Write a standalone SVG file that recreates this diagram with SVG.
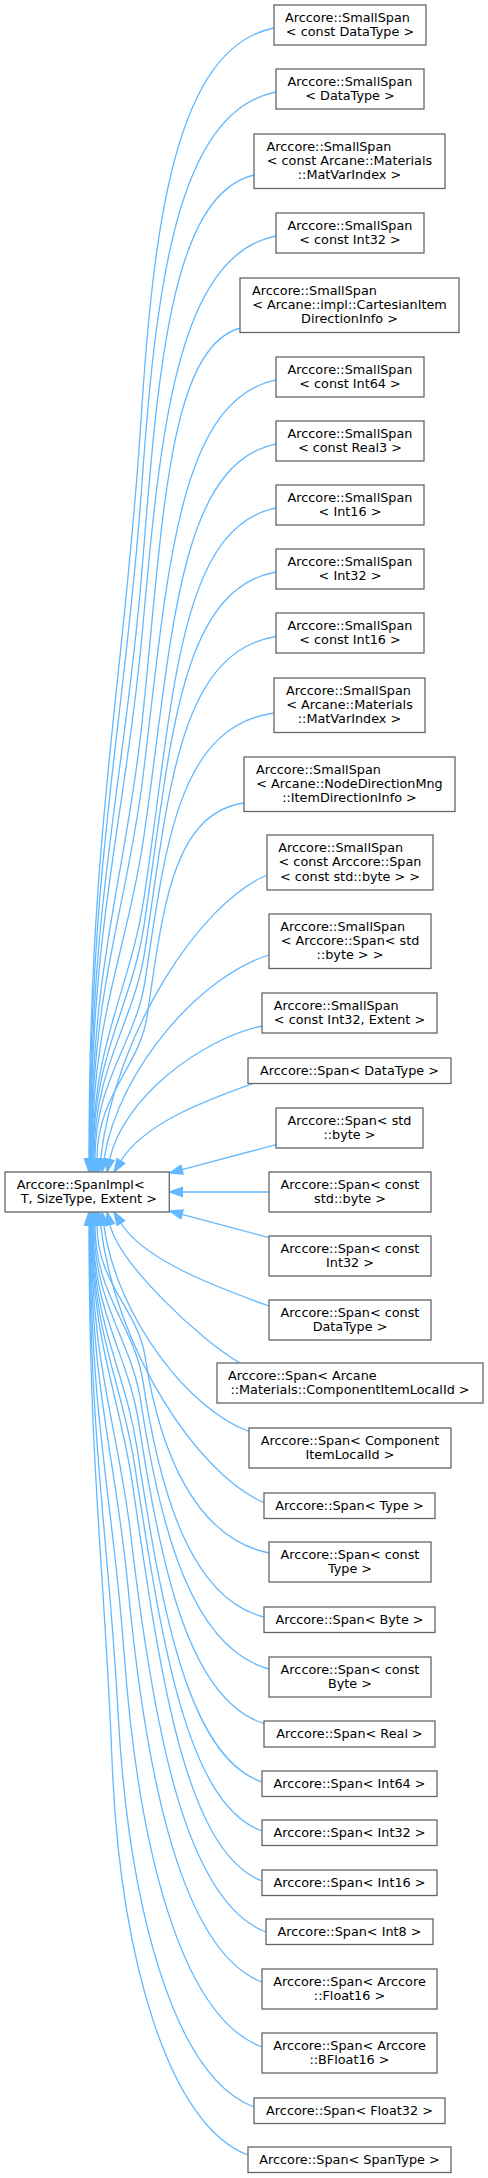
<svg xmlns="http://www.w3.org/2000/svg" width="488" height="2178" viewBox="0 0 488 2178">
<style>
.node rect{fill:#fff;stroke:#666;stroke-width:1.3}
.node text{font-family:"DejaVu Sans",sans-serif;font-size:12.8px;fill:#000}
.node text.m{text-anchor:middle}
.edges path{fill:none;stroke:#63b8ff;stroke-width:1.3;marker-end:url(#ah)}
</style>
<defs>
<marker id="ah" markerUnits="userSpaceOnUse" markerWidth="15" markerHeight="11" refX="1" refY="5.5" orient="auto" overflow="visible">
<path d="M1,1 L13.9,5.5 L1,10 z" fill="#63b8ff" stroke="#63b8ff" stroke-width="1.3"/>
</marker>
</defs>
<rect width="488" height="2178" fill="#fff"/>
<g id="edges" class="edges">
<path d="M274,28 C174.1,47.8 153.3,227.9 140.8,423 C124.5,680.6 89,827.9 89,1159.1"/>
<path d="M276,92 C175.3,111.8 155.5,291.9 141.7,487 C125.3,722.2 89.5,856.7 89.5,1159.1"/>
<path d="M254,175 C170,194.8 157.7,374.9 142,570 C125.6,776.2 90,894 90,1159.1"/>
<path d="M276,236 C175.8,255.8 159.9,435.9 142.4,631 C126.1,815.8 90.5,921.5 90.5,1159.1"/>
<path d="M240.5,328 C166.6,347.8 162.8,527.9 142,723 C125.9,875.6 91,962.9 91,1159.1"/>
<path d="M276,380 C176.4,399.8 167.1,579.9 143.2,775 C126.9,909.4 91.5,986.3 91.5,1159.1"/>
<path d="M276,444 C176.6,463.8 172.1,643.9 143.5,839 C127.3,951 92,1015.1 92,1159.1"/>
<path d="M276,508 C176.9,527.5 173.2,705.7 143.9,898.7 C130.2,989.8 92.5,1041.9 92.5,1159.1"/>
<path d="M276,572 C177.1,589.6 170.6,750.3 144.2,924.3 C131.9,1006.5 93,1053.4 93,1159.1"/>
<path d="M276,636.5 C177.7,652.2 168.5,795.2 145,950.1 C134,1023.3 94,1065.1 94,1159.1"/>
<path d="M274,713 C177.3,726.4 165.2,848.5 145.1,980.7 C135.7,1043.1 95,1078.8 95,1159.1"/>
<path d="M244,803 C171.2,813.7 163,911.1 147,1016.7 C139.5,1066.5 97,1095 97,1159.1"/>
<path d="M267,875 C199.8,903.4 115.8,1031.3 100.5,1159.2"/>
<path d="M269,955 C202.2,975.4 118.7,1067.3 104,1159.3"/>
<path d="M262,1026 C200,1039.3 122.5,1099.2 109.7,1159.4"/>
<path d="M253,1083.5 C209,1099.5 145,1122 120.8,1161"/>
<path d="M276,1144.7 L182,1169.7"/>
<path d="M269,1192 L182.4,1192"/>
<path d="M269,1237.6 L182,1214.3"/>
<path d="M269,1306 C225,1290 145,1262 120.8,1223"/>
<path d="M240,1363 C200,1340 119.2,1263.8 110,1224.6"/>
<path d="M249,1431.5 C190.2,1410.8 116.7,1317.9 103.8,1224.8"/>
<path d="M264,1502.5 C198,1474.7 115.5,1349.8 100.5,1224.8"/>
<path d="M269,1553 C195.8,1538 159.8,1453.4 145,1356.1 C138.1,1310.2 97,1283.9 97,1224.9"/>
<path d="M264,1617 C192.6,1599.1 160.6,1497.9 143,1381.7 C134.8,1326.8 95,1295.5 95,1224.9"/>
<path d="M269,1669 C193.5,1648.7 161,1534.2 141,1402.5 C131.7,1340.3 94,1304.8 94,1224.9"/>
<path d="M264,1723.5 C190.2,1700.8 161.4,1572.1 139,1424.3 C128.5,1354.5 93,1314.6 93,1224.9"/>
<path d="M262,1782 C188.2,1756.6 162.1,1612.8 137,1447.7 C125.3,1369.7 92.5,1325.2 92.5,1224.9"/>
<path d="M262,1831 C187.1,1803.4 162.3,1647 135,1467.3 C122.3,1382.5 92,1334 92,1224.9"/>
<path d="M262,1881 C185.9,1851.1 161,1681.8 133,1487.3 C119.9,1395.5 91.5,1343 91.5,1224.9"/>
<path d="M266,1932 C186.3,1902 153.8,1732.1 131,1537 C118.4,1427.8 91,1365.3 91,1224.9"/>
<path d="M262,1982 C182.9,1952 146.4,1782.1 128,1587 C116.2,1460.3 90.5,1387.8 90.5,1224.9"/>
<path d="M262,2047 C180.6,2017 138.1,1847.1 124,1652 C113.3,1502.5 90,1417.1 90,1224.9"/>
<path d="M254,2107 C173.8,2077 128.4,1907.1 118,1712 C109,1541.5 89.5,1444.1 89.5,1224.9"/>
<path d="M248,2155 C167.8,2125 119.6,1955.1 112,1760 C104.8,1572.7 89,1465.7 89,1224.9"/>
</g>
<g id="node0" class="node"><rect x="5" y="1172" width="164.3" height="40"/><text x="16.7" y="1188.75">Arccore::SpanImpl&lt;</text><text x="20.7" y="1203.05">T, SizeType, Extent &gt;</text></g>
<g id="node1" class="node"><rect x="274" y="5" width="152" height="40"/><text x="285" y="21.75">Arccore::SmallSpan</text><text class="m" x="350" y="36.05">&lt; const DataType &gt;</text></g>
<g id="node2" class="node"><rect x="276" y="69" width="148" height="40"/><text class="m" x="350" y="85.75">Arccore::SmallSpan</text><text class="m" x="350" y="100.05">&lt; DataType &gt;</text></g>
<g id="node3" class="node"><rect x="254" y="134" width="191" height="54.5"/><text x="266.6" y="150.85">Arccore::SmallSpan</text><text class="m" x="349.5" y="165.15">&lt; const Arcane::Materials</text><text class="m" x="349.5" y="179.45">::MatVarIndex &gt;</text></g>
<g id="node4" class="node"><rect x="276" y="213" width="148" height="40"/><text class="m" x="350" y="229.75">Arccore::SmallSpan</text><text class="m" x="350" y="244.05">&lt; const Int32 &gt;</text></g>
<g id="node5" class="node"><rect x="240" y="278" width="219" height="54.5"/><text x="252" y="294.85">Arccore::SmallSpan</text><text class="m" x="349.5" y="309.15">&lt; Arcane::impl::CartesianItem</text><text class="m" x="349.5" y="323.45">DirectionInfo &gt;</text></g>
<g id="node6" class="node"><rect x="276" y="357" width="148" height="40"/><text class="m" x="350" y="373.75">Arccore::SmallSpan</text><text class="m" x="350" y="388.05">&lt; const Int64 &gt;</text></g>
<g id="node7" class="node"><rect x="276" y="421" width="148" height="40"/><text class="m" x="350" y="437.75">Arccore::SmallSpan</text><text class="m" x="350" y="452.05">&lt; const Real3 &gt;</text></g>
<g id="node8" class="node"><rect x="276" y="485" width="148" height="40"/><text class="m" x="350" y="501.75">Arccore::SmallSpan</text><text class="m" x="350" y="516.05">&lt; Int16 &gt;</text></g>
<g id="node9" class="node"><rect x="276" y="549" width="148" height="40"/><text class="m" x="350" y="565.75">Arccore::SmallSpan</text><text class="m" x="350" y="580.05">&lt; Int32 &gt;</text></g>
<g id="node10" class="node"><rect x="276" y="613" width="148" height="40"/><text class="m" x="350" y="629.75">Arccore::SmallSpan</text><text class="m" x="350" y="644.05">&lt; const Int16 &gt;</text></g>
<g id="node11" class="node"><rect x="274" y="678" width="151" height="54.5"/><text x="286" y="694.85">Arccore::SmallSpan</text><text class="m" x="349.5" y="709.15">&lt; Arcane::Materials</text><text class="m" x="349.5" y="723.45">::MatVarIndex &gt;</text></g>
<g id="node12" class="node"><rect x="244" y="757" width="211" height="54.5"/><text x="256" y="773.85">Arccore::SmallSpan</text><text class="m" x="349.5" y="788.15">&lt; Arcane::NodeDirectionMng</text><text class="m" x="349.5" y="802.45">::ItemDirectionInfo &gt;</text></g>
<g id="node13" class="node"><rect x="267" y="835" width="166" height="55"/><text x="278.3" y="852.1">Arccore::SmallSpan</text><text class="m" x="350" y="866.4">&lt; const Arccore::Span</text><text class="m" x="350" y="880.7">&lt; const std::byte &gt; &gt;</text></g>
<g id="node14" class="node"><rect x="269" y="914" width="162" height="54.5"/><text x="280.3" y="930.85">Arccore::SmallSpan</text><text class="m" x="350" y="945.15">&lt; Arccore::Span&lt; std</text><text class="m" x="350" y="959.45">::byte &gt; &gt;</text></g>
<g id="node15" class="node"><rect x="262" y="993" width="175" height="40"/><text x="273.8" y="1009.75">Arccore::SmallSpan</text><text class="m" x="349.5" y="1024.05">&lt; const Int32, Extent &gt;</text></g>
<g id="node16" class="node"><rect x="248" y="1058" width="203" height="25.5"/><text class="m" x="349.5" y="1074.65">Arccore::Span&lt; DataType &gt;</text></g>
<g id="node17" class="node"><rect x="276" y="1108" width="147" height="40"/><text class="m" x="349.5" y="1124.75">Arccore::Span&lt; std</text><text class="m" x="349.5" y="1139.05">::byte &gt;</text></g>
<g id="node18" class="node"><rect x="269" y="1172" width="162" height="40"/><text class="m" x="350" y="1188.75">Arccore::Span&lt; const</text><text class="m" x="350" y="1203.05">std::byte &gt;</text></g>
<g id="node19" class="node"><rect x="269" y="1236" width="162" height="40"/><text class="m" x="350" y="1252.75">Arccore::Span&lt; const</text><text class="m" x="350" y="1267.05">Int32 &gt;</text></g>
<g id="node20" class="node"><rect x="269" y="1300" width="162" height="40"/><text class="m" x="350" y="1316.75">Arccore::Span&lt; const</text><text class="m" x="350" y="1331.05">DataType &gt;</text></g>
<g id="node21" class="node"><rect x="217" y="1363" width="266" height="40"/><text x="228" y="1379.75">Arccore::Span&lt; Arcane</text><text class="m" x="350" y="1394.05">::Materials::ComponentItemLocalId &gt;</text></g>
<g id="node22" class="node"><rect x="249" y="1428" width="202" height="40"/><text class="m" x="350" y="1444.75">Arccore::Span&lt; Component</text><text class="m" x="350" y="1459.05">ItemLocalId &gt;</text></g>
<g id="node23" class="node"><rect x="264" y="1493" width="171" height="25.5"/><text class="m" x="349.5" y="1509.65">Arccore::Span&lt; Type &gt;</text></g>
<g id="node24" class="node"><rect x="269" y="1542" width="162" height="40"/><text class="m" x="350" y="1558.75">Arccore::Span&lt; const</text><text class="m" x="350" y="1573.05">Type &gt;</text></g>
<g id="node25" class="node"><rect x="264" y="1607" width="171" height="25.5"/><text class="m" x="349.5" y="1623.65">Arccore::Span&lt; Byte &gt;</text></g>
<g id="node26" class="node"><rect x="269" y="1657" width="162" height="40"/><text class="m" x="350" y="1673.75">Arccore::Span&lt; const</text><text class="m" x="350" y="1688.05">Byte &gt;</text></g>
<g id="node27" class="node"><rect x="264" y="1721" width="171" height="26"/><text class="m" x="349.5" y="1737.9">Arccore::Span&lt; Real &gt;</text></g>
<g id="node28" class="node"><rect x="262" y="1771" width="175" height="25.5"/><text class="m" x="349.5" y="1787.65">Arccore::Span&lt; Int64 &gt;</text></g>
<g id="node29" class="node"><rect x="262" y="1820" width="175" height="25.5"/><text class="m" x="349.5" y="1836.65">Arccore::Span&lt; Int32 &gt;</text></g>
<g id="node30" class="node"><rect x="262" y="1870" width="175" height="25.5"/><text class="m" x="349.5" y="1886.65">Arccore::Span&lt; Int16 &gt;</text></g>
<g id="node31" class="node"><rect x="266" y="1919" width="167" height="25.5"/><text class="m" x="349.5" y="1935.65">Arccore::Span&lt; Int8 &gt;</text></g>
<g id="node32" class="node"><rect x="262" y="1969" width="175" height="40"/><text class="m" x="349.5" y="1985.75">Arccore::Span&lt; Arccore</text><text class="m" x="349.5" y="2000.05">::Float16 &gt;</text></g>
<g id="node33" class="node"><rect x="262" y="2033" width="175" height="40"/><text class="m" x="349.5" y="2049.75">Arccore::Span&lt; Arccore</text><text class="m" x="349.5" y="2064.05">::BFloat16 &gt;</text></g>
<g id="node34" class="node"><rect x="254" y="2098" width="191" height="25.5"/><text class="m" x="349.5" y="2114.65">Arccore::Span&lt; Float32 &gt;</text></g>
<g id="node35" class="node"><rect x="248" y="2147" width="203" height="25.5"/><text class="m" x="349.5" y="2163.65">Arccore::Span&lt; SpanType &gt;</text></g>
</svg>
